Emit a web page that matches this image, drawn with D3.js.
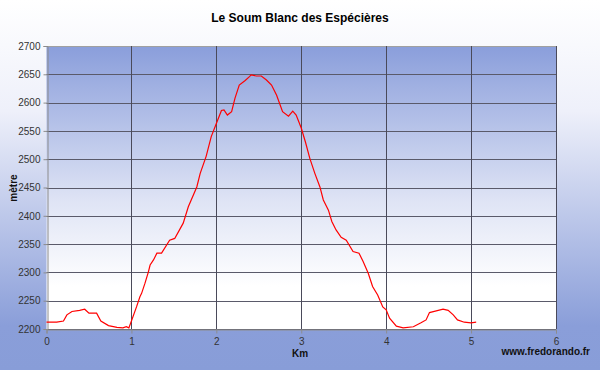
<!DOCTYPE html>
<html><head><meta charset="utf-8">
<script src="https://cdn.jsdelivr.net/npm/d3@7"></script>
<style>body{margin:0;}svg{display:block;}</style>
</head><body>
<script>
const title = "Le Soum Blanc des Espécières";
const xLabel = "Km";
const yLabel = "mètre";
const credit = "www.fredorando.fr";
const xTicks = [0,1,2,3,4,5,6];
const yTicks = [2200,2250,2300,2350,2400,2450,2500,2550,2600,2650,2700];
const distKm = [0,0.12,0.2,0.24,0.3,0.39,0.45,0.5,0.59,0.64,0.73,0.83,0.9,0.94,0.97,1.0,1.06,1.1,1.12,1.16,1.2,1.22,1.26,1.3,1.355,1.45,1.51,1.61,1.67,1.77,1.81,1.88,1.94,2.0,2.06,2.09,2.13,2.18,2.22,2.27,2.34,2.39,2.41,2.47,2.53,2.59,2.65,2.71,2.78,2.85,2.9,2.94,3.0,3.05,3.1,3.16,3.22,3.26,3.32,3.36,3.41,3.47,3.53,3.61,3.68,3.73,3.79,3.84,3.9,3.96,4.0,4.04,4.12,4.2,4.32,4.41,4.47,4.51,4.59,4.67,4.73,4.79,4.84,4.92,5.0,5.06];
const elevM = [2212,2212,2214,2225,2231,2233,2235,2228,2228,2214,2206,2203,2202,2204,2202,2214,2239,2257,2263,2281,2301,2313,2322,2334,2334,2357,2360,2387,2416,2451,2475,2505,2540,2563,2586,2587,2578,2584,2608,2631,2639,2646,2649,2647,2647,2640,2631,2613,2584,2576,2585,2578,2555,2530,2502,2475,2451,2428,2410,2390,2375,2362,2357,2337,2334,2319,2298,2275,2260,2239,2234,2219,2205,2202,2204,2211,2216,2229,2232,2235,2233,2225,2216,2212,2211,2212];

const W=600,H=370;
const svg=d3.select("body").append("svg").attr("width",W).attr("height",H);
const defs=svg.append("defs");
const bg=defs.append("linearGradient").attr("id","bg").attr("x1",0).attr("y1",0).attr("x2",0).attr("y2",1);
bg.append("stop").attr("offset","0%").attr("stop-color","#ffffff");
bg.append("stop").attr("offset","30%").attr("stop-color","#eef0fa");
bg.append("stop").attr("offset","88%").attr("stop-color","#8a9ed9");
bg.append("stop").attr("offset","100%").attr("stop-color","#889dd8");
const pg=defs.append("linearGradient").attr("id","pg").attr("x1",0).attr("y1",0).attr("x2",0).attr("y2",1);
pg.append("stop").attr("offset","0%").attr("stop-color","#8a9edb");
pg.append("stop").attr("offset","55%").attr("stop-color","#dfe4f5");
pg.append("stop").attr("offset","85%").attr("stop-color","#ffffff");
pg.append("stop").attr("offset","100%").attr("stop-color","#ffffff");
svg.append("rect").attr("width",W).attr("height",H).attr("fill","url(#bg)");

const L=46.5,R=556,T=46,B=329;
const x=d3.scaleLinear().domain([0,6]).range([L,R]);
const y=d3.scaleLinear().domain([2200,2700]).range([B,T]);

svg.append("rect").attr("x",L).attr("y",T).attr("width",R-L).attr("height",B-T).attr("fill","url(#pg)");

const g=svg.append("g");
g.selectAll(".hg").data(yTicks).join("line")
 .attr("x1",L).attr("x2",R).attr("y1",d=>Math.round(y(d))+0.5).attr("y2",d=>Math.round(y(d))+0.5)
 .attr("stroke",d=>d===2700?"#a0a0a0":"#5a5a6a").attr("stroke-width",1);
g.selectAll(".vg").data(xTicks.slice(1)).join("line")
 .attr("y1",T).attr("y2",B).attr("x1",d=>Math.round(x(d))+0.5).attr("x2",d=>Math.round(x(d))+0.5)
 .attr("stroke","#4a4a5a").attr("stroke-width",1);

const yAxis=svg.append("g").attr("transform",`translate(${Math.round(L)+0.5},0)`)
 .call(d3.axisLeft(y).tickValues(yTicks).tickSize(4).tickPadding(3).tickFormat(d3.format("d")));
const xAxis=svg.append("g").attr("transform",`translate(0,${B+0.5})`)
 .call(d3.axisBottom(x).tickValues(xTicks).tickSize(4).tickPadding(4).tickFormat(d3.format("d")));
[yAxis,xAxis].forEach(a=>{
  a.select(".domain").attr("stroke","#8c8c8c");
  a.selectAll(".tick line").attr("stroke","#8c8c8c");
  a.selectAll("text").attr("fill","#333").style("font-family","Arial, Liberation Sans, sans-serif").style("font-size","10px");
});

const line=d3.line().x((d,i)=>x(distKm[i])).y(d=>y(d));
svg.append("path").datum(elevM).attr("d",line).attr("fill","none").attr("stroke","#ff0000").attr("stroke-width",1.2);

svg.append("text").attr("x",300).attr("y",22).attr("text-anchor","middle")
 .style("font-family","Arial, Liberation Sans, sans-serif").style("font-size","12px").style("font-weight","bold").attr("fill","#000").text(title);
svg.append("text").attr("x",300).attr("y",357).attr("text-anchor","middle")
 .style("font-family","Arial, Liberation Sans, sans-serif").style("font-size","10px").style("font-weight","bold").attr("fill","#111").text(xLabel);
svg.append("text").attr("transform","translate(17,188) rotate(-90)").attr("text-anchor","middle")
 .style("font-family","Arial, Liberation Sans, sans-serif").style("font-size","10px").style("font-weight","bold").attr("fill","#111").text(yLabel);
svg.append("text").attr("x",590).attr("y",355).attr("text-anchor","end")
 .style("font-family","Arial, Liberation Sans, sans-serif").style("font-size","10px").style("font-weight","bold").attr("fill","#111").text(credit);
</script>
</body></html>
